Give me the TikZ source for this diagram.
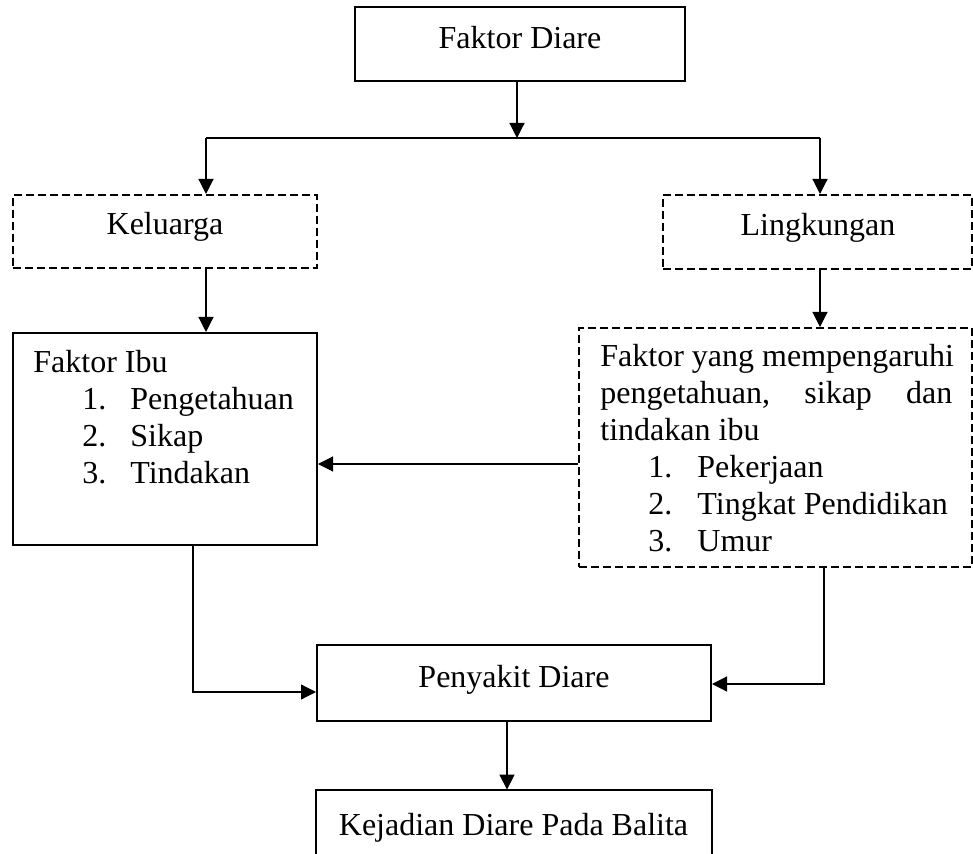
\documentclass[tikz,border=0pt]{standalone}
\usepackage{fontspec}
\setmainfont{Liberation Serif}
\usetikzlibrary{arrows.meta}
\begin{document}
\begin{tikzpicture}[x=0.5pt,y=-0.5pt,
  box/.style={draw,line width=1pt,inner sep=0pt},
  dbox/.style={draw,line width=1pt,dash pattern=on 4pt off 2pt,inner sep=0pt},
  conn/.style={line width=0.6pt,-{Triangle[length=7.5pt,width=7.5pt]}},
  plain/.style={line width=0.6pt},
  txt/.style={inner sep=0pt,font=\fontsize{16}{18.5}\selectfont},
  blk/.style={txt,align=left,anchor=base west}]
\useasboundingbox (0,0) rectangle (973,854);
% boxes
\node[box,minimum width=165pt,minimum height=37pt] (fd) at (520,44) {};
\node[dbox,minimum width=152pt,minimum height=36.5pt] (kel) at (165,231.5) {};
\node[dbox,minimum width=154.5pt,minimum height=37pt] (lin) at (817.5,232) {};
\node[box,minimum width=152pt,minimum height=106pt] (ibu) at (165,439) {};
\node[dbox,minimum width=196.5pt,minimum height=119.5pt] (fym) at (775.5,447.5) {};
\node[box,minimum width=197pt,minimum height=38pt] (pen) at (514,683) {};
\node[inner sep=0pt,minimum width=197.5pt,minimum height=64pt] (kej) at (514,854) {};
\draw[line width=1pt] (kej.south west) -- (kej.north west) -- (kej.north east) -- (kej.south east);
% texts
\node[txt,anchor=base] (tfd) at (520,49) {Faktor Diare};
\node[txt,anchor=base] (tkel) at (165,235) {Keluarga};
\node[txt,anchor=base] (tlin) at (818,236) {Lingkungan};
\node[txt,anchor=base] (tpen) at (514,687) {Penyakit Diare};
\node[txt,anchor=base] (tkej) at (513.5,835) {Kejadian Diare Pada Balita};
\node[blk] (tibu) at (33,484) {Faktor Ibu\\
\hspace*{24.5pt}\makebox[24pt][l]{1.}Pengetahuan\\
\hspace*{24.5pt}\makebox[24pt][l]{2.}Sikap\\
\hspace*{24.5pt}\makebox[24pt][l]{3.}Tindakan};
\node[blk] (tfym) at (600,552) {Faktor yang mempengaruhi\\
\hbox to 176pt{pengetahuan,\hfill sikap\hfill dan}\\
tindakan ibu\\
\hspace*{24pt}\makebox[24.5pt][l]{1.}Pekerjaan\\
\hspace*{24pt}\makebox[24.5pt][l]{2.}Tingkat Pendidikan\\
\hspace*{24pt}\makebox[24.5pt][l]{3.}Umur};
% connectors
\coordinate (j) at (517,138);
\coordinate (jl) at (206,138);
\coordinate (jr) at (820,138);
\draw[conn] (fd.south -| j) -- (j);
\draw[plain] (jl) -- (jr);
\draw[conn] (jl) -- (kel.north -| jl);
\draw[conn] (jr) -- (lin.north -| jr);
\draw[conn] (kel.south -| jl) -- (ibu.north -| jl);
\draw[conn] (lin.south -| jr) -- (fym.north -| jr);
\coordinate (h) at (0,464);
\draw[conn] (fym.west |- h) -- (ibu.east |- h);
\coordinate (c1) at (193,692);
\draw[conn] (ibu.south -| c1) -- (c1) -- (pen.west |- c1);
\coordinate (c2) at (824,684);
\draw[conn] (fym.south -| c2) -- (c2) -- (pen.east |- c2);
\coordinate (c3) at (507,0);
\draw[conn] (pen.south -| c3) -- (kej.north -| c3);
\end{tikzpicture}
\end{document}
